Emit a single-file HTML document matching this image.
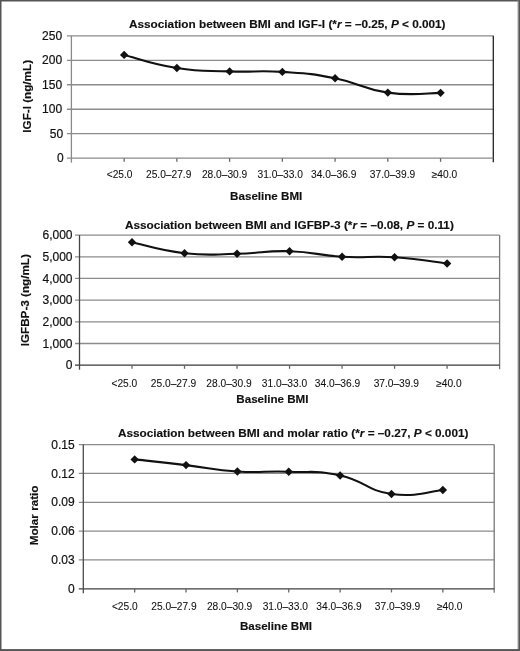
<!DOCTYPE html>
<html><head><meta charset="utf-8"><style>
html,body{margin:0;padding:0;background:#fff;}
body{width:520px;height:651px;overflow:hidden;}
svg{display:block;}
text{font-family:"Liberation Sans",Arial,sans-serif;fill:#111;stroke:#111;stroke-width:0.3px;}
.grid{stroke:#8c8c8c;stroke-width:1.3;}
.xax{stroke:#666;stroke-width:1.3;}
.yax{stroke:#444;stroke-width:1.3;}
.ser{fill:none;stroke:#111;stroke-width:2.1;}
.yt{font-size:12px;text-anchor:end;stroke-width:0.2px;}
.xl{font-size:10.2px;text-anchor:middle;stroke-width:0.08px;}
.xt{font-size:11.6px;font-weight:bold;text-anchor:middle;stroke-width:0.15px;}
.yl{font-size:11.7px;font-weight:bold;text-anchor:middle;stroke-width:0.15px;}
.tt{font-size:11.78px;font-weight:bold;stroke-width:0.15px;}
</style></head><body>
<svg width="520" height="651" viewBox="0 0 520 651">
<rect x="0" y="0" width="520" height="651" fill="#fff"/>
<rect x="0" y="0" width="1.5" height="651" fill="#555"/>
<rect x="0" y="0" width="520" height="1.5" fill="#555"/>
<rect x="518.3" y="0" width="1.7" height="651" fill="#555"/>
<rect x="517.6" y="0" width="0.7" height="651" fill="#8a8a8a"/>
<rect x="0" y="649.1" width="520" height="1.9" fill="#555"/>
<line x1="66.90" y1="133.72" x2="493.30" y2="133.72" class="grid"/>
<line x1="66.90" y1="109.24" x2="493.30" y2="109.24" class="grid"/>
<line x1="66.90" y1="84.76" x2="493.30" y2="84.76" class="grid"/>
<line x1="66.90" y1="60.28" x2="493.30" y2="60.28" class="grid"/>
<line x1="66.90" y1="35.80" x2="493.30" y2="35.80" class="grid"/>
<line x1="493.30" y1="35.80" x2="493.30" y2="162.20" stroke="#222" stroke-width="1.3"/>
<line x1="66.90" y1="158.20" x2="493.30" y2="158.20" class="xax" stroke="#8a8a8a" style="stroke:#8a8a8a"/>
<line x1="124.14" y1="158.20" x2="124.14" y2="161.80" class="xax"/>
<line x1="176.88" y1="158.20" x2="176.88" y2="161.80" class="xax"/>
<line x1="229.61" y1="158.20" x2="229.61" y2="161.80" class="xax"/>
<line x1="282.35" y1="158.20" x2="282.35" y2="161.80" class="xax"/>
<line x1="335.09" y1="158.20" x2="335.09" y2="161.80" class="xax"/>
<line x1="387.82" y1="158.20" x2="387.82" y2="161.80" class="xax"/>
<line x1="440.56" y1="158.20" x2="440.56" y2="161.80" class="xax"/>
<line x1="71.40" y1="35.80" x2="71.40" y2="162.70" class="yax" style="stroke:#8a8a8a"/>
<text x="63.65" y="162.30" class="yt">0</text>
<text x="63.15" y="137.82" class="yt">50</text>
<text x="62.15" y="113.34" class="yt">100</text>
<text x="62.15" y="88.86" class="yt">150</text>
<text x="62.15" y="64.38" class="yt">200</text>
<text x="62.15" y="39.90" class="yt">250</text>
<path d="M124.14,54.90 C137.32,58.17 150.51,63.88 176.88,68.00 C203.24,72.12 203.24,70.43 229.61,71.40 C255.98,72.38 255.98,70.18 282.35,71.90 C308.72,73.62 308.72,73.12 335.09,78.30 C361.46,83.47 361.46,88.96 387.82,92.60 C414.19,96.24 427.38,92.79 440.56,92.85" class="ser"/>
<path d="M124.14,50.70 L128.34,54.90 L124.14,59.10 L119.94,54.90Z" fill="#111"/>
<path d="M176.88,63.80 L181.07,68.00 L176.88,72.20 L172.68,68.00Z" fill="#111"/>
<path d="M229.61,67.20 L233.81,71.40 L229.61,75.60 L225.41,71.40Z" fill="#111"/>
<path d="M282.35,67.70 L286.55,71.90 L282.35,76.10 L278.15,71.90Z" fill="#111"/>
<path d="M335.09,74.10 L339.29,78.30 L335.09,82.50 L330.89,78.30Z" fill="#111"/>
<path d="M387.82,88.40 L392.02,92.60 L387.82,96.80 L383.62,92.60Z" fill="#111"/>
<path d="M440.56,88.65 L444.76,92.85 L440.56,97.05 L436.36,92.85Z" fill="#111"/>
<text x="119.60" y="178.00" class="xl">&lt;25.0</text>
<text x="168.70" y="178.00" class="xl">25.0–27.9</text>
<text x="224.60" y="178.00" class="xl">28.0–30.9</text>
<text x="280.20" y="178.00" class="xl">31.0–33.0</text>
<text x="333.70" y="178.00" class="xl">34.0–36.9</text>
<text x="392.50" y="178.00" class="xl">37.0–39.9</text>
<text x="444.50" y="178.00" class="xl">≥40.0</text>
<text x="266.20" y="199.60" class="xt">Baseline BMI</text>
<text transform="translate(31.40,96.30) rotate(-90)" class="yl">IGF-I (ng/mL)</text>
<text x="129.00" y="28.20" class="tt">Association between BMI and IGF-I (*<tspan font-style="italic">r</tspan> = –0.25, <tspan font-style="italic">P</tspan> &lt; 0.001)</text>
<line x1="75.00" y1="343.52" x2="499.60" y2="343.52" class="grid"/>
<line x1="75.00" y1="321.83" x2="499.60" y2="321.83" class="grid"/>
<line x1="75.00" y1="300.15" x2="499.60" y2="300.15" class="grid"/>
<line x1="75.00" y1="278.47" x2="499.60" y2="278.47" class="grid"/>
<line x1="75.00" y1="256.78" x2="499.60" y2="256.78" class="grid"/>
<line x1="75.00" y1="235.10" x2="499.60" y2="235.10" class="grid"/>
<line x1="499.60" y1="235.10" x2="499.60" y2="369.20" stroke="#777" stroke-width="1.3"/>
<line x1="75.00" y1="365.20" x2="499.60" y2="365.20" class="xax" stroke="#383838" style="stroke:#383838"/>
<line x1="132.01" y1="365.20" x2="132.01" y2="368.80" class="xax"/>
<line x1="184.53" y1="365.20" x2="184.53" y2="368.80" class="xax"/>
<line x1="237.04" y1="365.20" x2="237.04" y2="368.80" class="xax"/>
<line x1="289.55" y1="365.20" x2="289.55" y2="368.80" class="xax"/>
<line x1="342.06" y1="365.20" x2="342.06" y2="368.80" class="xax"/>
<line x1="394.58" y1="365.20" x2="394.58" y2="368.80" class="xax"/>
<line x1="447.09" y1="365.20" x2="447.09" y2="368.80" class="xax"/>
<line x1="79.50" y1="235.10" x2="79.50" y2="369.70" class="yax" style="stroke:#444"/>
<text x="72.50" y="369.30" class="yt">0</text>
<text x="72.50" y="347.62" class="yt">1,000</text>
<text x="72.50" y="325.93" class="yt">2,000</text>
<text x="72.50" y="304.25" class="yt">3,000</text>
<text x="72.50" y="282.57" class="yt">4,000</text>
<text x="72.50" y="260.88" class="yt">5,000</text>
<text x="72.50" y="239.20" class="yt">6,000</text>
<path d="M132.01,242.30 C145.14,245.03 158.27,250.32 184.53,253.20 C210.78,256.07 210.78,254.30 237.04,253.80 C263.29,253.30 263.29,250.45 289.55,251.20 C315.81,251.95 315.81,255.30 342.06,256.80 C368.32,258.30 368.32,255.52 394.58,257.20 C420.83,258.88 433.96,261.93 447.09,263.50" class="ser"/>
<path d="M132.01,238.10 L136.21,242.30 L132.01,246.50 L127.81,242.30Z" fill="#111"/>
<path d="M184.53,249.00 L188.72,253.20 L184.53,257.40 L180.33,253.20Z" fill="#111"/>
<path d="M237.04,249.60 L241.24,253.80 L237.04,258.00 L232.84,253.80Z" fill="#111"/>
<path d="M289.55,247.00 L293.75,251.20 L289.55,255.40 L285.35,251.20Z" fill="#111"/>
<path d="M342.06,252.60 L346.26,256.80 L342.06,261.00 L337.86,256.80Z" fill="#111"/>
<path d="M394.58,253.00 L398.78,257.20 L394.58,261.40 L390.38,257.20Z" fill="#111"/>
<path d="M447.09,259.30 L451.29,263.50 L447.09,267.70 L442.89,263.50Z" fill="#111"/>
<text x="124.40" y="386.50" class="xl">&lt;25.0</text>
<text x="173.50" y="386.50" class="xl">25.0–27.9</text>
<text x="229.00" y="386.50" class="xl">28.0–30.9</text>
<text x="284.50" y="386.50" class="xl">31.0–33.0</text>
<text x="337.50" y="386.50" class="xl">34.0–36.9</text>
<text x="396.30" y="386.50" class="xl">37.0–39.9</text>
<text x="448.90" y="386.50" class="xl">≥40.0</text>
<text x="272.40" y="402.90" class="xt">Baseline BMI</text>
<text transform="translate(29.30,300.20) rotate(-90)" class="yl">IGFBP-3 (ng/mL)</text>
<text x="124.90" y="228.70" class="tt">Association between BMI and IGFBP-3 (*<tspan font-style="italic">r</tspan> = –0.08, <tspan font-style="italic">P</tspan> = 0.11)</text>
<line x1="78.80" y1="559.96" x2="494.20" y2="559.96" class="grid"/>
<line x1="78.80" y1="531.12" x2="494.20" y2="531.12" class="grid"/>
<line x1="78.80" y1="502.28" x2="494.20" y2="502.28" class="grid"/>
<line x1="78.80" y1="473.44" x2="494.20" y2="473.44" class="grid"/>
<line x1="78.80" y1="444.60" x2="494.20" y2="444.60" class="grid"/>
<line x1="494.20" y1="444.60" x2="494.20" y2="592.80" stroke="#777" stroke-width="1.3"/>
<line x1="78.80" y1="588.80" x2="494.20" y2="588.80" class="xax" stroke="#404040" style="stroke:#404040"/>
<line x1="134.66" y1="588.80" x2="134.66" y2="592.40" class="xax"/>
<line x1="186.02" y1="588.80" x2="186.02" y2="592.40" class="xax"/>
<line x1="237.39" y1="588.80" x2="237.39" y2="592.40" class="xax"/>
<line x1="288.75" y1="588.80" x2="288.75" y2="592.40" class="xax"/>
<line x1="340.11" y1="588.80" x2="340.11" y2="592.40" class="xax"/>
<line x1="391.47" y1="588.80" x2="391.47" y2="592.40" class="xax"/>
<line x1="442.84" y1="588.80" x2="442.84" y2="592.40" class="xax"/>
<line x1="83.30" y1="444.60" x2="83.30" y2="593.30" class="yax" style="stroke:#4a4a4a"/>
<text x="74.60" y="592.90" class="yt">0</text>
<text x="74.60" y="564.06" class="yt">0.03</text>
<text x="74.60" y="535.22" class="yt">0.06</text>
<text x="74.60" y="506.38" class="yt">0.09</text>
<text x="74.60" y="477.54" class="yt">0.12</text>
<text x="74.60" y="448.70" class="yt">0.15</text>
<path d="M134.66,459.40 C147.50,460.82 160.34,462.08 186.02,465.10 C211.71,468.12 211.71,469.84 237.39,471.50 C263.07,473.16 263.07,470.75 288.75,471.75 C314.43,472.75 314.43,469.94 340.11,475.50 C365.79,481.06 365.79,490.38 391.47,494.00 C417.16,497.62 430.00,491.00 442.84,490.00" class="ser"/>
<path d="M134.66,455.20 L138.86,459.40 L134.66,463.60 L130.46,459.40Z" fill="#111"/>
<path d="M186.02,460.90 L190.22,465.10 L186.02,469.30 L181.82,465.10Z" fill="#111"/>
<path d="M237.39,467.30 L241.59,471.50 L237.39,475.70 L233.19,471.50Z" fill="#111"/>
<path d="M288.75,467.55 L292.95,471.75 L288.75,475.95 L284.55,471.75Z" fill="#111"/>
<path d="M340.11,471.30 L344.31,475.50 L340.11,479.70 L335.91,475.50Z" fill="#111"/>
<path d="M391.47,489.80 L395.67,494.00 L391.47,498.20 L387.27,494.00Z" fill="#111"/>
<path d="M442.84,485.80 L447.04,490.00 L442.84,494.20 L438.64,490.00Z" fill="#111"/>
<text x="124.80" y="609.50" class="xl">&lt;25.0</text>
<text x="173.90" y="609.50" class="xl">25.0–27.9</text>
<text x="229.60" y="609.50" class="xl">28.0–30.9</text>
<text x="285.30" y="609.50" class="xl">31.0–33.0</text>
<text x="339.00" y="609.50" class="xl">34.0–36.9</text>
<text x="397.50" y="609.50" class="xl">37.0–39.9</text>
<text x="449.70" y="609.50" class="xl">≥40.0</text>
<text x="276.00" y="630.20" class="xt">Baseline BMI</text>
<text transform="translate(38.00,515.40) rotate(-90)" class="yl">Molar ratio</text>
<text x="117.90" y="436.70" class="tt">Association between BMI and molar ratio (*<tspan font-style="italic">r</tspan> = –0.27, <tspan font-style="italic">P</tspan> &lt; 0.001)</text>
</svg>
</body></html>
